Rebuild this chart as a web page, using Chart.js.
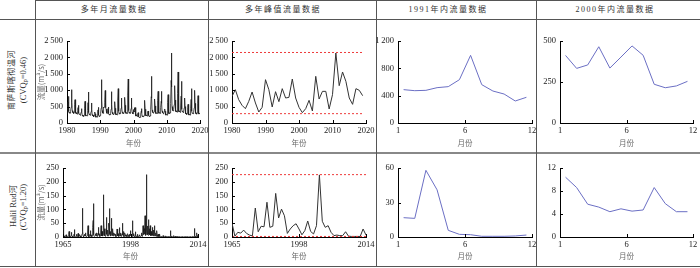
<!DOCTYPE html>
<html><head><meta charset="utf-8">
<script src="https://cdn.jsdelivr.net/npm/chart.js@4/dist/chart.umd.min.js"></script>
<style>
html,body{margin:0;padding:0;background:#fff;}
#wrap{position:relative;width:700px;height:268px;overflow:hidden;background:#fff;}
#wrap canvas{position:absolute;left:0;top:0;}
.ln{position:absolute;background:#555;}
.hd{position:absolute;top:0;height:19px;line-height:19px;width:200px;text-align:center;font-family:'Liberation Serif','Noto Sans CJK SC',serif;font-size:8px;letter-spacing:1.5px;color:#333;white-space:nowrap;}
.rh{position:absolute;width:120px;height:10px;line-height:10px;text-align:center;transform:rotate(-90deg);font-family:'Liberation Serif','Noto Sans CJK SC',serif;font-size:8.5px;color:#333;white-space:nowrap;}
.rh sub{font-size:6px;vertical-align:-1px;line-height:0;}
</style></head>
<body>
<div id="wrap">
  <div class="ln" style="left:35px;top:0;width:665px;height:1px"></div>
  <div class="ln" style="left:0;top:19px;width:700px;height:1px"></div>
  <div class="ln" style="left:0;top:152px;width:700px;height:2px;background:#888"></div>
  <div class="ln" style="left:0;top:266px;width:700px;height:1px"></div>
  <div class="ln" style="left:35px;top:0;width:1px;height:267px"></div>
  <div class="ln" style="left:208px;top:0;width:1px;height:267px"></div>
  <div class="ln" style="left:376px;top:0;width:1px;height:267px"></div>
  <div class="ln" style="left:536px;top:0;width:1px;height:267px"></div>

  <div class="hd" style="left:14px">多年月流量数据</div>
  <div class="hd" style="left:183px">多年峰值流量数据</div>
  <div class="hd" style="left:348px">1991年内流量数据</div>
  <div class="hd" style="left:515px">2000年内流量数据</div>

  <div class="rh" style="left:-48px;top:75px;font-size:8px;letter-spacing:0.6px">南萨斯喀彻温河</div>
  <div class="rh" style="left:-37px;top:75px">(CVQ<sub>p</sub>=0.46)</div>
  <div class="rh" style="left:-47px;top:201px">Halil Rud河</div>
  <div class="rh" style="left:-37px;top:202px">(CVQ<sub>p</sub>=1.20)</div>
</div>
<script>
// ---------------- DATA ----------------
// South Saskatchewan River: monthly flow 1980-2019 (m3/s), one row per year
const ssMonthly = [
  [310, 300, 380, 520, 640, 813, 560, 350, 300, 320, 330, 300],
  [320, 310, 360, 480, 700, 1016, 620, 380, 320, 330, 340, 310],
  [300, 290, 330, 420, 560, 711, 520, 340, 300, 310, 320, 290],
  [280, 270, 300, 380, 470, 539, 430, 300, 260, 270, 280, 260],
  [240, 230, 260, 330, 400, 437, 340, 240, 210, 220, 230, 210],
  [210, 200, 240, 320, 450, 660, 420, 260, 220, 230, 240, 220],
  [230, 220, 270, 380, 620, 945, 560, 320, 260, 270, 280, 250],
  [240, 230, 270, 350, 480, 610, 400, 260, 220, 230, 240, 220],
  [200, 190, 220, 260, 310, 335, 280, 200, 180, 190, 200, 180],
  [190, 180, 230, 300, 400, 478, 360, 240, 200, 210, 220, 200],
  [240, 230, 300, 450, 800, 1321, 700, 380, 300, 310, 320, 290],
  [488, 473, 478, 517, 532, 634, 990, 561, 468, 424, 322, 376],
  [300, 290, 320, 380, 440, 488, 400, 290, 250, 260, 270, 250],
  [260, 250, 300, 420, 640, 955, 560, 330, 270, 280, 290, 260],
  [270, 260, 300, 390, 520, 650, 450, 300, 260, 270, 280, 250],
  [260, 250, 320, 460, 700, 1047, 640, 360, 290, 300, 310, 280],
  [290, 280, 340, 450, 600, 762, 520, 340, 290, 300, 310, 290],
  [300, 290, 340, 460, 620, 782, 540, 350, 300, 310, 320, 290],
  [300, 290, 360, 500, 850, 1341, 700, 380, 310, 320, 330, 300],
  [300, 290, 340, 440, 600, 762, 520, 330, 280, 290, 300, 280],
  [412, 333, 354, 465, 335, 402, 470, 413, 236, 215, 226, 254],
  [220, 200, 210, 240, 280, 315, 260, 190, 170, 175, 180, 170],
  [180, 170, 200, 270, 360, 437, 320, 220, 190, 200, 210, 190],
  [200, 190, 230, 320, 480, 691, 420, 260, 220, 230, 240, 220],
  [220, 210, 240, 290, 340, 366, 300, 230, 200, 210, 220, 200],
  [220, 210, 280, 420, 800, 1423, 760, 400, 320, 330, 340, 310],
  [310, 300, 350, 460, 600, 732, 520, 340, 290, 300, 310, 290],
  [300, 290, 340, 480, 680, 965, 580, 360, 300, 310, 320, 300],
  [300, 290, 340, 470, 660, 965, 600, 370, 310, 320, 330, 300],
  [280, 270, 300, 350, 400, 427, 360, 270, 240, 250, 260, 240],
  [250, 240, 290, 400, 620, 864, 560, 340, 290, 300, 310, 290],
  [320, 310, 400, 600, 1300, 2134, 1100, 500, 380, 390, 400, 370],
  [380, 370, 420, 560, 800, 1138, 700, 420, 350, 360, 370, 350],
  [340, 330, 390, 520, 900, 1555, 820, 430, 350, 360, 370, 340],
  [330, 320, 380, 520, 820, 1270, 720, 420, 340, 350, 360, 330],
  [320, 310, 360, 460, 600, 762, 500, 330, 280, 290, 300, 280],
  [270, 260, 300, 380, 470, 569, 420, 290, 250, 260, 270, 250],
  [250, 240, 300, 450, 720, 1047, 620, 360, 290, 300, 310, 290],
  [290, 280, 330, 460, 700, 996, 600, 350, 290, 300, 310, 290],
  [280, 270, 320, 430, 600, 833, 520, 330, 280, 290, 300, 280]
];
// South Saskatchewan River: annual peak flow 1980-2019
const ssPeaks = [813, 1016, 711, 539, 437, 660, 945, 610, 335, 478, 1321, 1016, 488, 955, 650, 1047, 762, 782, 1341, 762,
  478, 315, 437, 691, 366, 1423, 732, 965, 965, 427, 864, 2134, 1138, 1555, 1270, 762, 569, 1047, 996, 833];
const ssPeakLines = [2150, 285];
const ss1991 = [488, 473, 478, 517, 532, 634, 990, 561, 468, 424, 322, 376];
const ss2000 = [412, 333, 354, 465, 335, 402, 470, 413, 236, 215, 226, 254];

// Halil Rud: monthly flow, one row per year
const hrMonthly = [
  [2, 5, 20, 45, 8, 3, 1, 0, 0, 1, 2, 3],
  [3, 4, 8, 5, 2, 1, 0, 0, 0, 1, 2, 2],
  [3, 5, 10, 20, 6, 2, 1, 0, 0, 1, 2, 4],
  [5, 8, 17, 9, 3, 1, 0, 0, 0, 1, 2, 3],
  [4, 10, 27, 12, 4, 2, 1, 0, 0, 1, 2, 3],
  [10, 6, 4, 3, 2, 1, 4, 13, 3, 1, 2, 3],
  [3, 4, 6, 9, 4, 2, 1, 0, 0, 1, 2, 3],
  [5, 12, 30, 104, 20, 5, 2, 1, 1, 2, 4, 10],
  [6, 5, 8, 10, 7, 15, 4, 1, 1, 2, 3, 5],
  [6, 10, 18, 41, 12, 4, 2, 1, 1, 2, 4, 8],
  [10, 23, 12, 6, 3, 2, 1, 8, 2, 3, 6, 15],
  [20, 35, 60, 121, 30, 8, 3, 2, 2, 3, 5, 10],
  [8, 12, 10, 6, 4, 3, 15, 4, 2, 3, 5, 9],
  [14, 35, 20, 8, 5, 3, 12, 3, 2, 3, 6, 12],
  [18, 41, 25, 10, 6, 4, 20, 5, 3, 4, 8, 25],
  [153, 60, 30, 12, 8, 18, 5, 3, 2, 4, 10, 30],
  [71, 40, 20, 10, 6, 4, 3, 25, 4, 5, 12, 40],
  [50, 30, 103, 25, 10, 5, 4, 20, 5, 6, 10, 30],
  [68, 25, 12, 8, 5, 30, 6, 4, 3, 5, 15, 8],
  [6, 8, 12, 7, 10, 5, 3, 2, 2, 3, 6, 10],
  [29, 15, 8, 6, 4, 12, 3, 2, 2, 4, 10, 34],
  [20, 10, 6, 4, 3, 14, 3, 2, 3, 5, 12, 50],
  [25, 12, 8, 5, 20, 4, 2, 1, 2, 3, 6, 15],
  [8, 6, 5, 3, 2, 2, 8, 2, 1, 2, 3, 6],
  [12, 6, 4, 3, 2, 2, 10, 2, 1, 3, 8, 23],
  [10, 6, 4, 3, 2, 2, 1, 2, 6, 59, 15, 8],
  [5, 4, 3, 12, 3, 2, 1, 1, 2, 3, 19, 6],
  [4, 3, 3, 2, 2, 2, 10, 2, 1, 2, 3, 4],
  [3, 3, 4, 5, 8, 3, 2, 1, 1, 2, 3, 5],
  [15, 6, 4, 3, 2, 2, 3, 41, 10, 8, 12, 20],
  [30, 15, 10, 25, 77, 20, 12, 8, 6, 10, 226, 60],
  [25, 15, 10, 40, 12, 8, 6, 63, 20, 12, 15, 30],
  [15, 10, 8, 41, 12, 6, 5, 20, 6, 5, 8, 12],
  [35, 15, 8, 6, 5, 4, 25, 6, 4, 5, 8, 41],
  [12, 6, 4, 3, 15, 4, 3, 2, 3, 23, 6, 4],
  [3, 2, 10, 3, 2, 2, 1, 1, 2, 11, 3, 2],
  [2, 2, 3, 2, 1, 1, 1, 1, 1, 2, 2, 2],
  [5, 2, 2, 1, 1, 1, 0, 0, 1, 1, 2, 4],
  [2, 1, 1, 1, 1, 0, 0, 0, 0, 1, 1, 2],
  [2, 1, 1, 1, 0, 0, 0, 0, 1, 2, 23, 6],
  [3, 2, 1, 1, 0, 0, 0, 0, 1, 1, 5, 2],
  [2, 1, 1, 1, 0, 0, 0, 0, 3, 1, 1, 2],
  [1, 1, 1, 0, 0, 0, 2, 0, 0, 1, 1, 1],
  [1, 1, 0, 0, 0, 0, 0, 0, 0, 1, 1, 1],
  [1, 1, 0, 0, 0, 0, 0, 0, 0, 0, 1, 1],
  [1, 1, 1, 0, 0, 0, 0, 0, 0, 0, 1, 1],
  [1, 1, 0, 0, 0, 0, 0, 0, 0, 1, 1, 1],
  [1, 1, 0, 0, 0, 0, 0, 0, 0, 0, 1, 2],
  [2, 1, 1, 0, 0, 0, 0, 0, 31, 6, 2, 3],
  [3, 2, 1, 1, 2, 3, 15, 4, 2, 1, 2, 6]
];
// Halil Rud: annual peak flow
const hrPeaks = [50, 3, 17, 14, 25, 13, 7, 4, 105, 19, 39, 37, 126, 35, 39, 158, 69, 101, 77, 13,
  29, 41, 48, 29, 8, 23, 58, 20, 11, 41, 225, 57, 35, 41, 17, 5, 7, 5, 5, 19, 3, 2, 2, 2, 2, 29, 7];
const hrPeakLines = [226, 2];
const hr1991 = [16.8, 16.2, 58, 41, 5.8, 2.3, 2.0, 0.6, 0.6, 0.6, 0.9, 1.7];
const hr2000 = [10.4, 8.6, 5.7, 5.2, 4.4, 4.9, 4.5, 4.7, 8.6, 5.8, 4.4, 4.4];

// tick labels
const yearTicksA = ['1980', '1990', '2000', '2010', '2020'];
const yearTicksB = ['1965', '1998', '2014'];
const monthTicks = ['1', '6', '12'];
const months = [1, 2, 3, 4, 5, 6, 7, 8, 9, 10, 11, 12];

// ---------------- DRAWING ----------------
const wrap = document.getElementById('wrap');
const fmt = v => String(v).replace(/\B(?=(\d{3})+(?!\d))/g, '\u2009');
const TICK_FONT = {family: "'Liberation Serif','Times New Roman',serif", size: 8.5};
const TITLE_FONT = {family: "'Noto Sans CJK SC',sans-serif", size: 7.5, lineHeight: 1.2};
const BLACK = '#1a1a1a', GREY = '#333', RED = '#ee3b3b', BLUE = '#6b6fc4';

const inwardTicks = {
  id: 'inwardTicks',
  afterDraw(chart) {
    const {ctx, chartArea: a, scales: {x, y}} = chart;
    ctx.save();
    ctx.strokeStyle = '#000';
    ctx.lineWidth = 1;
    ctx.beginPath();
    y.ticks.forEach(t => { const p = Math.round(y.getPixelForValue(t.value)) + 0.5; ctx.moveTo(a.left, p); ctx.lineTo(a.left + 3, p); });
    x.ticks.forEach(t => { const p = Math.round(x.getPixelForValue(t.value)) + 0.5; ctx.moveTo(p, a.bottom); ctx.lineTo(p, a.bottom - 3); });
    ctx.stroke();
    ctx.restore();
  }
};

function line(data, color, width, dash) {
  return {data, borderColor: color, borderWidth: width, borderDash: dash || [], pointRadius: 0, fill: false, tension: 0};
}

function panel(o) {
  const canvas = document.createElement('canvas');
  canvas.width = 700; canvas.height = 268;
  wrap.appendChild(canvas);
  const lh = TITLE_FONT.size * TITLE_FONT.lineHeight;
  const yLeft = o.yTitle ? o.yTitleX - lh / 2 : o.l - 30;
  const yW = o.l - yLeft;
  const xBottom = o.xTitleY + lh / 2;
  const xH = xBottom - o.b;
  new Chart(canvas, {
    type: 'line',
    data: {datasets: o.datasets},
    options: {
      responsive: false, animation: false, events: [],
      layout: {padding: {left: yLeft, right: 700 - o.r, top: o.t, bottom: 268 - xBottom}},
      plugins: {legend: {display: false}, tooltip: {enabled: false}},
      scales: {
        x: {
          type: 'linear', min: o.xMin, max: o.xMax,
          grid: {display: false, drawTicks: false},
          border: {display: true, color: '#000', width: 1},
          ticks: {font: TICK_FONT, color: '#222', padding: o.xPad || 3, maxRotation: 0, autoSkip: false,
                  callback: (v, i) => o.xLabels[i]},
          afterBuildTicks: s => { s.ticks = o.xTicks.map(v => ({value: v})); },
          afterFit: s => { s.height = xH; s.paddingLeft = 0; s.paddingRight = 0; },
          title: {display: true, text: o.xTitle, font: TITLE_FONT, color: '#6a6a6a', padding: 0}
        },
        y: {
          type: 'linear', min: 0, max: o.yMax,
          grid: {display: false, drawTicks: false},
          border: {display: true, color: '#000', width: 1},
          ticks: {font: TICK_FONT, color: '#222', padding: 4, stepSize: o.yStep, callback: v => fmt(v)},
          afterFit: s => { s.width = yW; s.paddingTop = 0; s.paddingBottom = 0; },
          title: {display: !!o.yTitle, text: o.yTitle || '', font: TITLE_FONT, color: '#6a6a6a', padding: 0}
        }
      }
    },
    plugins: [inwardTicks]
  });
}

// data series built from arrays
const ssMonthlyPts = ssMonthly.flat().map((v, i) => ({x: 1980 + i / 12, y: v}));
const ssPeakPts = ssPeaks.map((v, i) => ({x: 1980 + i, y: v}));
const ssLastYear = 1980 + ssPeaks.length - 1;
const hrMonthlyPts = hrMonthly.flat().map((v, i) => ({x: i, y: v}));
const hrN = hrMonthlyPts.length - 1;
const hrPeakPts = hrPeaks.map((v, i) => ({x: i, y: v}));
const hrPN = hrPeaks.length - 1;
const mPts = arr => arr.map((v, i) => ({x: months[i], y: v}));

const TOP = {t: 41, b: 123, xTitleY: 143.3};
const BOT = {t: 168, b: 237, xTitleY: 255.7, xPad: 2.5};

// row 1
panel({...TOP, l: 67, r: 200, yTitle: '流量(m³/s)', yTitleX: 41.2, xTitle: '年份',
  xMin: 1980, xMax: 2020, xTicks: [1980, 1990, 2000, 2010, 2020], xLabels: yearTicksA, yMax: 2500, yStep: 500,
  datasets: [line(ssMonthlyPts, BLACK, 0.8)]});
panel({...TOP, l: 232, r: 366, xTitle: '年份',
  xMin: 1980, xMax: 2020, xTicks: [1980, 1990, 2000, 2010, 2020], xLabels: yearTicksA, yMax: 2500, yStep: 500,
  datasets: [
    line([{x: 1980, y: ssPeakLines[0]}, {x: ssLastYear, y: ssPeakLines[0]}], RED, 1, [2, 2]),
    line([{x: 1980, y: ssPeakLines[1]}, {x: ssLastYear, y: ssPeakLines[1]}], RED, 1, [2, 2]),
    line(ssPeakPts, GREY, 1)]});
panel({...TOP, l: 398, r: 532, xTitle: '月份',
  xMin: 0.5, xMax: 12.5, xTicks: [0.5, 6.5, 12.5], xLabels: monthTicks, yMax: 1200, yStep: 400,
  datasets: [line(mPts(ss1991), BLUE, 1)]});
panel({...TOP, l: 560, r: 693, xTitle: '月份',
  xMin: 0.5, xMax: 12.5, xTicks: [0.5, 6.5, 12.5], xLabels: monthTicks, yMax: 500, yStep: 250,
  datasets: [line(mPts(ss2000), BLUE, 1)]});

// row 2
panel({...BOT, l: 63, r: 198, yTitle: '流量(m³/s)', yTitleX: 41.2, xTitle: '年份',
  xMin: 0, xMax: hrN, xTicks: [0, hrN / 2, hrN], xLabels: yearTicksB, yMax: 250, yStep: 50,
  datasets: [line(hrMonthlyPts, BLACK, 0.8)]});
panel({...BOT, l: 232, r: 366, xTitle: '年份',
  xMin: 0, xMax: hrPN, xTicks: [0, hrPN / 2, hrPN], xLabels: yearTicksB, yMax: 250, yStep: 50,
  datasets: [
    line([{x: 0, y: hrPeakLines[0]}, {x: hrPN, y: hrPeakLines[0]}], RED, 1, [2, 2]),
    line([{x: 0, y: hrPeakLines[1]}, {x: hrPN, y: hrPeakLines[1]}], RED, 1, [2, 2]),
    line(hrPeakPts, GREY, 1)]});
panel({...BOT, l: 398, r: 532, xTitle: '月份',
  xMin: 0.5, xMax: 12.5, xTicks: [0.5, 6.5, 12.5], xLabels: monthTicks, yMax: 60, yStep: 30,
  datasets: [line(mPts(hr1991), BLUE, 1)]});
panel({...BOT, l: 560, r: 693, xTitle: '月份',
  xMin: 0.5, xMax: 12.5, xTicks: [0.5, 6.5, 12.5], xLabels: monthTicks, yMax: 12, yStep: 4,
  datasets: [line(mPts(hr2000), BLUE, 1)]});
</script>
</body></html>
